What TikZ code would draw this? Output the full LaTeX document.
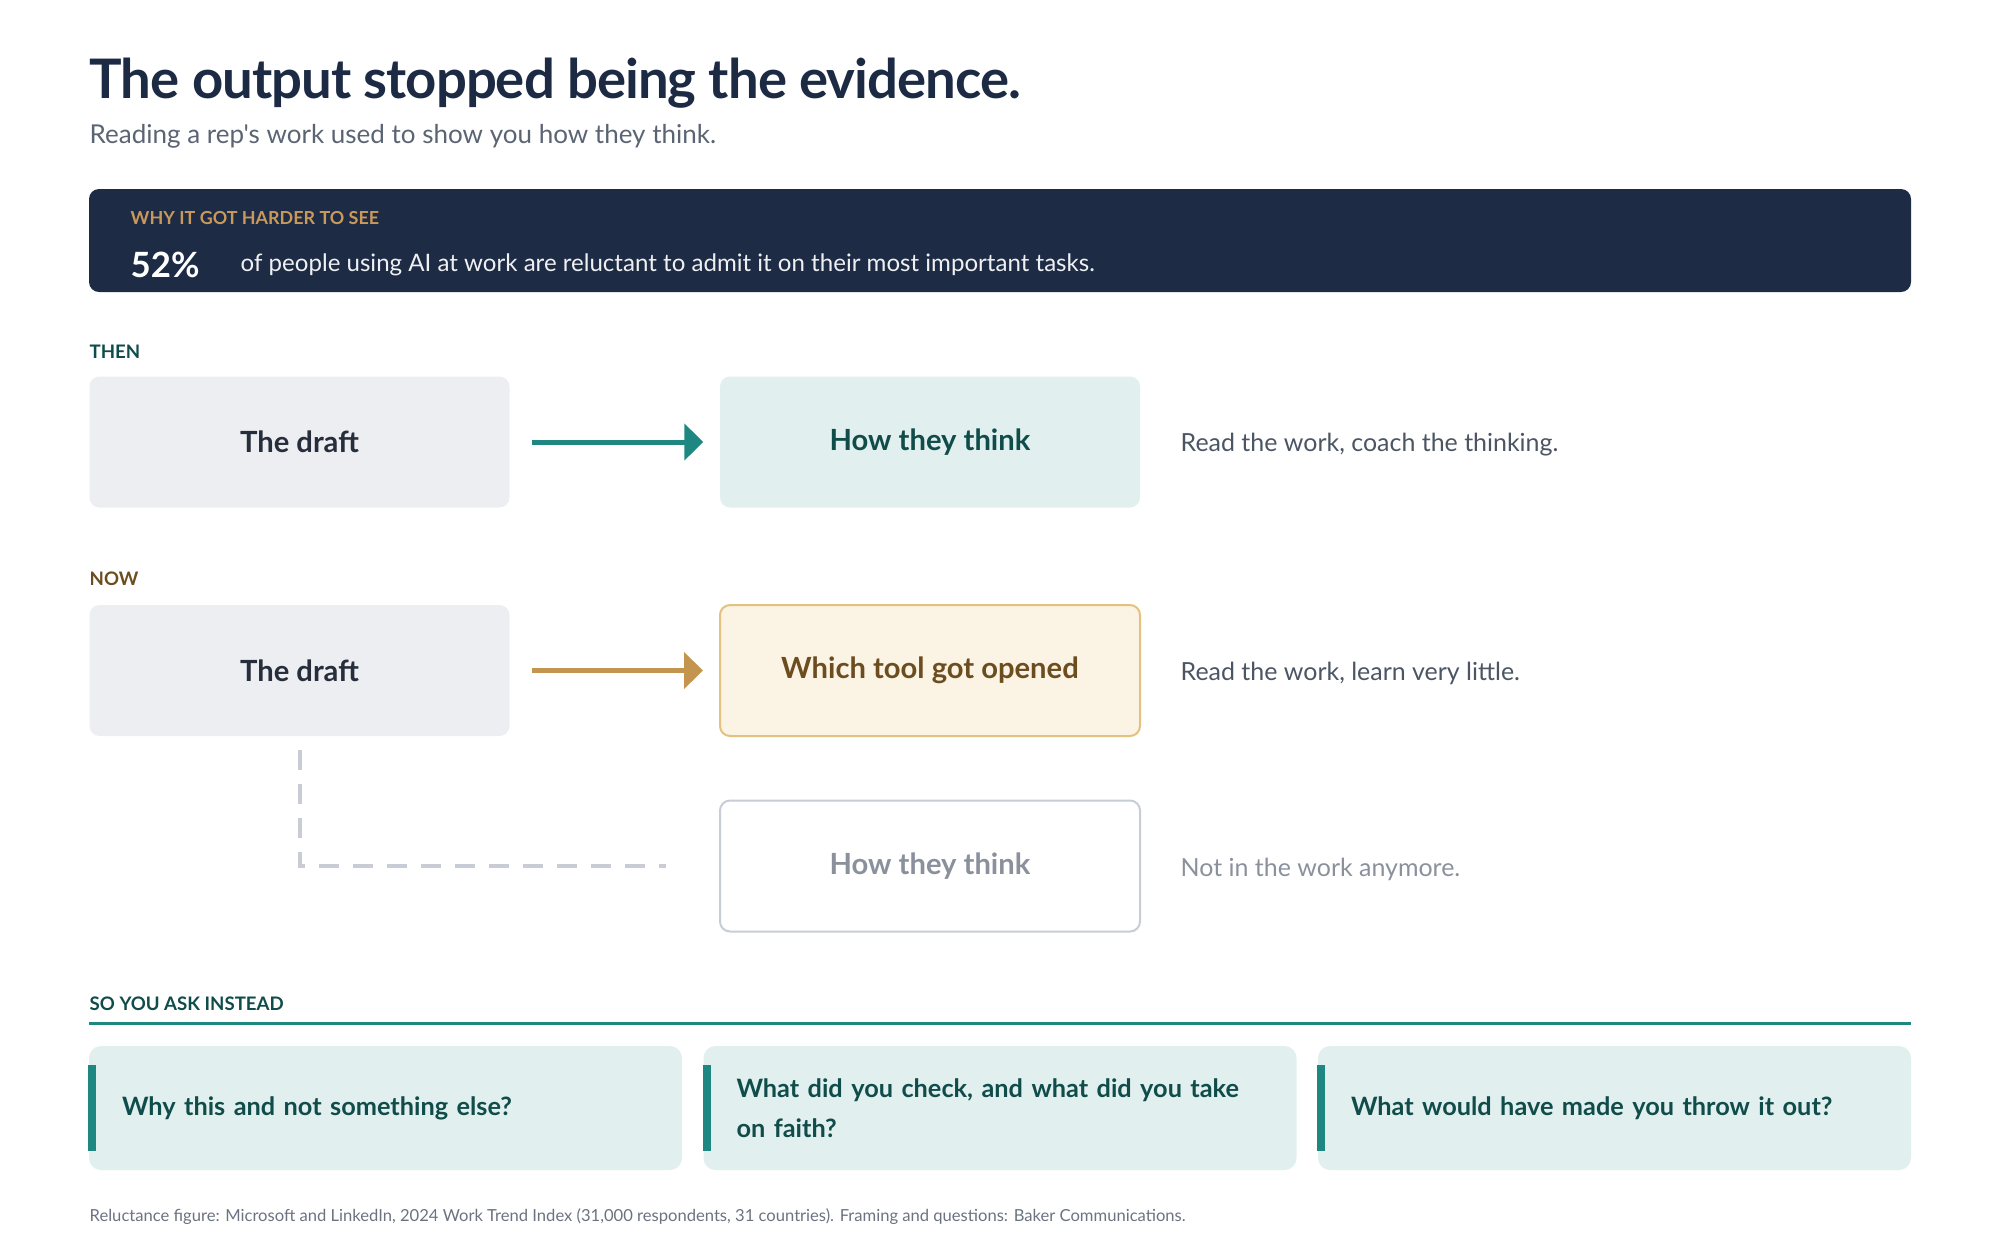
\documentclass[tikz,border=0pt]{standalone}
\usepackage{fontspec}
\setmainfont{Lato}
\newfontfamily\titlefont{Lato}[LetterSpace=-1.8]
\newfontfamily\plainfont{Lato}
\definecolor{evnavy}{HTML}{1C2A44}
\definecolor{evband}{HTML}{1E2B45}
\definecolor{evsub}{HTML}{5B6472}
\definecolor{evnote}{HTML}{4B5563}
\definecolor{evfoot}{HTML}{6B7280}
\definecolor{evgold}{HTML}{C8995A}
\definecolor{evgoldarrow}{HTML}{C4954F}
\definecolor{evgoldfill}{HTML}{FBF3E3}
\definecolor{evgoldline}{HTML}{E3C27F}
\definecolor{evbrown}{HTML}{6B4D1F}
\definecolor{evteal}{HTML}{1E8782}
\definecolor{evtealdark}{HTML}{0F4C4A}
\definecolor{evtealfill}{HTML}{E1EFEE}
\definecolor{evgrayfill}{HTML}{EDEEF2}
\definecolor{evink}{HTML}{262E3B}
\definecolor{evghost}{HTML}{C7CCD5}
\definecolor{evghosttext}{HTML}{8A919C}
\usepackage{tikz}
\usetikzlibrary{arrows.meta, positioning}

\begin{document}
\begin{tikzpicture}[
  box/.style={rounded corners=0.1cm, minimum width=4.2cm, minimum height=1.31cm,
              font=\fontsize{8.3}{10}\selectfont\bfseries, inner sep=0pt},
  draftbox/.style={box, fill=evgrayfill, text=evink},
  thinkbox/.style={box, fill=evtealfill, text=evtealdark},
  toolbox/.style={box, fill=evgoldfill, draw=evgoldline, line width=0.02cm, text=evbrown},
  ghostbox/.style={box, fill=white, draw=evghost, line width=0.02cm, text=evghosttext},
  note/.style={anchor=west, font=\fontsize{7.1}{8.5}\selectfont, inner sep=0pt},
  label/.style={anchor=base west, font=\fontsize{5.3}{6.5}\selectfont\bfseries, inner sep=0pt},
  card/.style={rounded corners=0.12cm, fill=evtealfill, text=evtealdark, minimum height=1.24cm,
               text width=5.27cm, inner xsep=0.33cm, inner ysep=0pt, align=left,
               font=\fontsize{7.2}{11.4}\selectfont\bfseries},
  flow/.style={line width=0.05cm, -{Triangle[length=0.19cm, width=0.36cm]},
               shorten <=0.22cm, shorten >=0.16cm},
]
  \useasboundingbox (0,0) rectangle (20,-12.46);

  % Heading
  \node[anchor=base west, inner sep=0pt, font=\titlefont\fontsize{15.5}{19}\selectfont\bfseries, evnavy]
    (title) at (0.89,-0.98) {The output stopped being the evidence.};
  \node[anchor=base west, inner sep=0pt, font=\plainfont\fontsize{7.4}{9}\selectfont, evsub]
    (subtitle) at (0.89,-1.43) {Reading a rep's work used to show you how they think.};

  % Banner
  \node[rounded corners=0.1cm, fill=evband, minimum width=18.22cm, minimum height=1.03cm,
        inner sep=0pt] (banner) at (10.0,-2.405) {};
  \node[label, font=\fontsize{5.1}{6}\selectfont\bfseries, evgold] (why) at (1.30,-2.24) {WHY IT GOT HARDER TO SEE};
  \node[anchor=base west, inner sep=0pt, font=\fontsize{9.9}{12}\selectfont\bfseries, white]
    (stat) at (1.30,-2.77) {52\%};
  \node[anchor=base west, inner sep=0pt, font=\fontsize{6.85}{8}\selectfont, white!93!evband]
    (stattext) at (2.40,-2.71) {of people using AI at work are reluctant to admit it on their most important tasks.};

  % Then
  \node[label, evtealdark] (then) at (0.89,-3.58) {THEN};
  \node[draftbox] (draft1) at (2.995,-4.42) {The draft};
  \node[thinkbox] (think1) at (9.30,-4.42) {How they think};
  \node[note, evnote] (note1) at (11.80,-4.45) {Read the work, coach the thinking.};

  % Now
  \node[label, evbrown] (now) at (0.89,-5.85) {NOW};
  \node[draftbox] (draft2) at (2.995,-6.705) {The draft};
  \node[toolbox] (tool2) at (9.30,-6.705) {Which tool got opened};
  \node[note, evnote] (note2) at (11.80,-6.735) {Read the work, learn very little.};

  \node[ghostbox] (ghost) at (9.30,-8.66) {How they think};
  \node[note, evghosttext] (note3) at (11.80,-8.69) {Not in the work anymore.};

  % Arrows
  \foreach \a/\b/\c in {draft1/think1/evteal, draft2/tool2/evgoldarrow}
    \draw[flow, \c] (\a) -- (\b);
  \draw[evghost, line width=0.04cm, dash pattern=on 0.2cm off 0.14cm, shorten >=0.53cm]
    ([yshift=-0.13cm]draft2.south) |- (ghost.west);

  % Questions
  \node[label, evtealdark] (ask) at (0.89,-10.10) {SO YOU ASK INSTEAD};
  \draw[evteal, line width=0.03cm] (0.89,-10.23) -- (19.11,-10.23);

  \node[card] (qa) at (3.855,-11.08) {Why this and not something else?};
  \node[card] (qb) at (10.00,-11.08) {What did you check, and what did you take\\on faith?};
  \node[card] (qc) at (16.145,-11.08) {What would have made you throw it out?};
  \foreach \q in {qa,qb,qc}
    \fill[evteal] ([yshift=0.2cm]\q.south west) rectangle ([xshift=0.08cm,yshift=-0.2cm]\q.north west);

  \node[anchor=base west, inner sep=0pt, font=\fontsize{4.72}{6}\selectfont, evfoot] (source)
    at (0.89,-12.21) {Reluctance figure: Microsoft and LinkedIn, 2024 Work Trend Index (31,000 respondents, 31 countries). Framing and questions: Baker Communications.};
\end{tikzpicture}
\end{document}
